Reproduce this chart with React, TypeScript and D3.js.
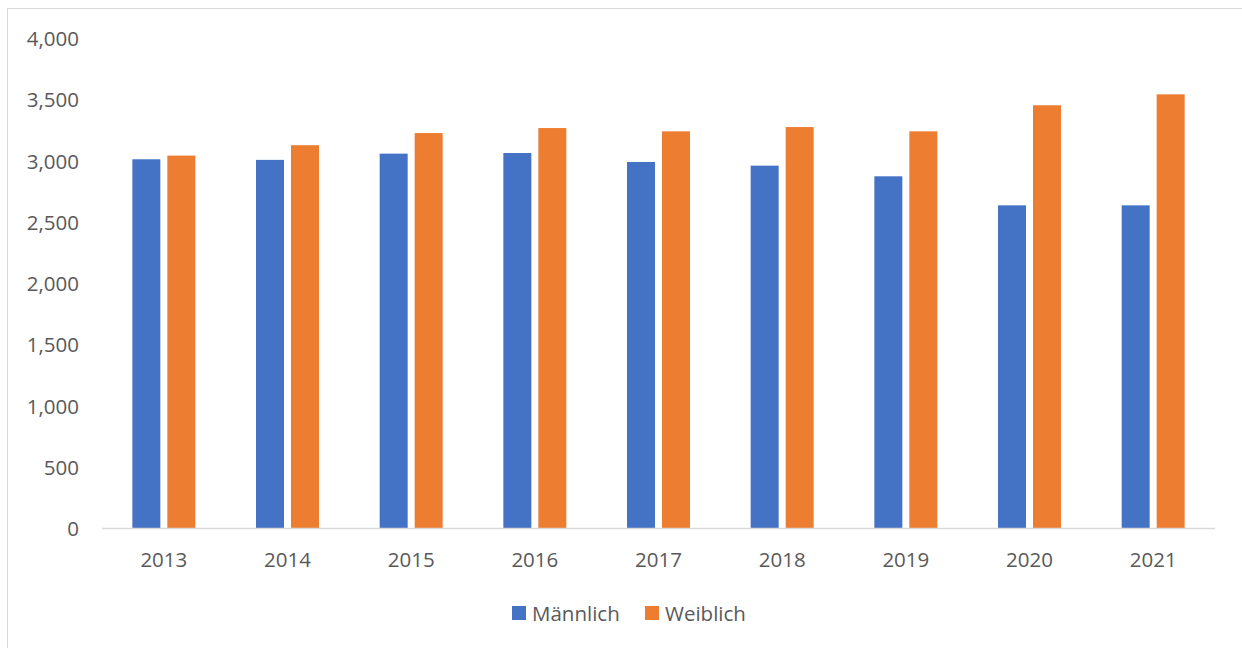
import { useMemo } from 'react';
import * as d3 from 'd3';

const YEARS = ['2013', '2014', '2015', '2016', '2017', '2018', '2019', '2020', '2021'];
const MAENNLICH = [3010, 3005, 3056, 3061, 2988, 2958, 2871, 2634, 2634];
const WEIBLICH = [3040, 3125, 3224, 3265, 3238, 3273, 3238, 3451, 3540];
const Y_TICKS = [0, 500, 1000, 1500, 2000, 2500, 3000, 3500, 4000];
const SERIES = [
  { name: 'Männlich', values: MAENNLICH, color: '#4472C4' },
  { name: 'Weiblich', values: WEIBLICH, color: '#ED7D31' },
];

const W = 1242;
const H = 648;
const PLOT = { left: 102, right: 1215, top: 38, bottom: 528 };
const FONT = '"Open Sans", "Noto Sans", sans-serif';
const TEXT = '#595959';
const FS = 20.5;

export default function App() {
  const chart = useMemo(() => {
    const x = d3.scaleBand<string>()
      .domain(YEARS)
      .range([PLOT.left, PLOT.right])
      .paddingInner(0)
      .paddingOuter(0);
    const y = d3.scaleLinear().domain([0, 4000]).range([PLOT.bottom, PLOT.top]);
    const bw = x.bandwidth();
    // bar width / inner gap relative to the band
    const barW = bw * 0.2263;
    const gap = bw * 0.0566;
    const groupW = barW * 2 + gap;
    const sub = d3.scaleOrdinal<string, number>()
      .domain(SERIES.map((s) => s.name))
      .range([0, barW + gap]);
    return { x, y, barW, groupW, sub, bw };
  }, []);

  const fmt = d3.format(',');

  return (
    <svg
      width={W}
      height={H}
      style={{ position: 'absolute', left: 0, top: 0, display: 'block', background: '#fff' }}
      fontFamily={FONT}
    >
      {/* outer frame */}
      <rect x={7.5} y={8.5} width={W + 20} height={H + 20} fill="#fff" stroke="#D9D9D9" strokeWidth={1} />

      {/* y labels */}
      {Y_TICKS.map((v) => (
        <text
          key={v}
          x={79}
          y={chart.y(v)}
          textAnchor="end"
          dominantBaseline="central"
          fontSize={FS}
          fill={TEXT}
        >
          {fmt(v)}
        </text>
      ))}

      {/* bars */}
      {YEARS.map((yr, i) => {
        const gx = (chart.x(yr) ?? 0) + (chart.bw - chart.groupW) / 2;
        return (
          <g key={yr}>
            {SERIES.map((s) => (
              <rect
                key={s.name}
                x={gx + chart.sub(s.name)}
                y={chart.y(s.values[i])}
                width={chart.barW}
                height={chart.y(0) - chart.y(s.values[i])}
                fill={s.color}
              />
            ))}
          </g>
        );
      })}

      {/* x axis */}
      <line x1={PLOT.left} x2={PLOT.right} y1={PLOT.bottom + 0.5} y2={PLOT.bottom + 0.5} stroke="#D9D9D9" strokeWidth={1.5} />
      {YEARS.map((yr) => (
        <text
          key={yr}
          x={(chart.x(yr) ?? 0) + chart.bw / 2}
          y={559}
          textAnchor="middle"
          dominantBaseline="central"
          fontSize={FS}
          fill={TEXT}
        >
          {yr}
        </text>
      ))}

      {/* legend */}
      {SERIES.map((s, i) => {
        const lx = i === 0 ? 512 : 645;
        return (
          <g key={s.name} transform={`translate(${lx},606)`}>
            <rect width={14} height={14} fill={s.color} />
            <text x={20} y={7} dominantBaseline="central" fontSize={FS} fill={TEXT}>
              {s.name}
            </text>
          </g>
        );
      })}
    </svg>
  );
}
